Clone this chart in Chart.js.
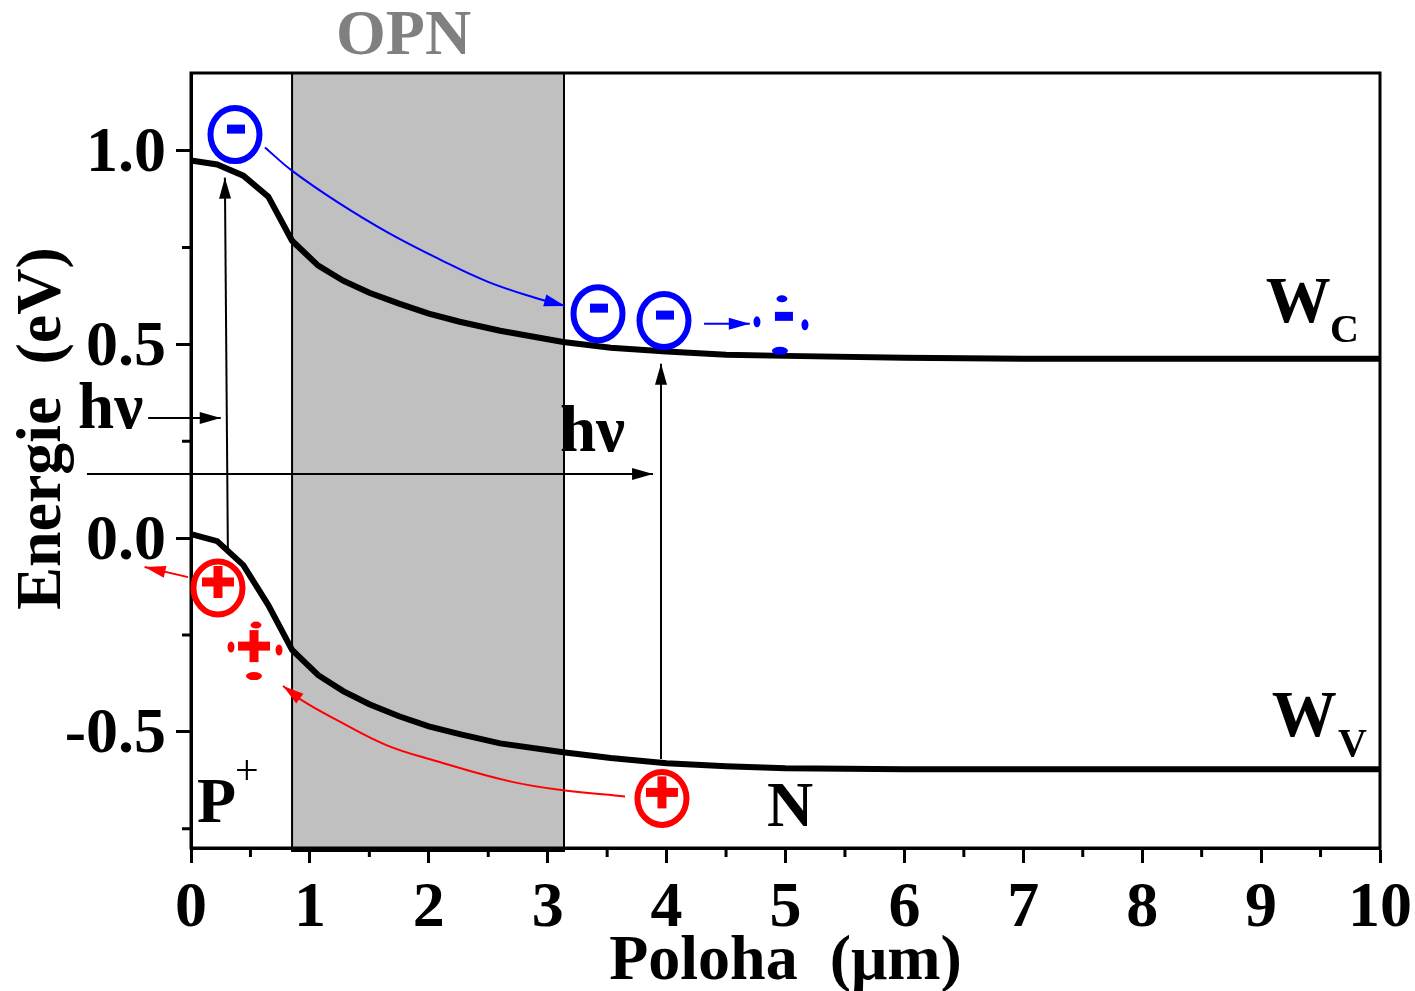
<!DOCTYPE html>
<html>
<head>
<meta charset="utf-8">
<title>Energie vs. poloha</title>
<script src="https://cdn.jsdelivr.net/npm/chart.js@4"></script>
<style>
  html, body { margin: 0; padding: 0; background: #fff; }
  canvas { display: block; }
</style>
</head>
<body>
<canvas id="chart" width="1415" height="991"></canvas>
<script>
// ─── Data ───
const xTicks = [0, 1, 2, 3, 4, 5, 6, 7, 8, 9, 10];
const xMinorTicks = [0.5, 1.5, 2.5, 3.5, 4.5, 5.5, 6.5, 7.5, 8.5, 9.5];
const yTicks = [-0.5, 0, 0.5, 1];
const yTickLabels = ['-0.5', '0.0', '0.5', '1.0'];
const yMinorTicks = [-0.75, -0.25, 0.25, 0.75];

const position = [0, 0.22, 0.44, 0.65, 0.85, 1.07, 1.28, 1.5, 1.75, 2, 2.26, 2.6, 3.13, 3.53, 4, 4.5, 5, 6, 7, 10];
const conductionBand = [0.974, 0.964, 0.935, 0.881, 0.767, 0.703, 0.664, 0.633, 0.605, 0.579, 0.558, 0.535, 0.506, 0.491, 0.481, 0.473, 0.47, 0.465, 0.4625, 0.4625];
const valenceBand = [0.01, -0.008, -0.07, -0.173, -0.289, -0.354, -0.395, -0.429, -0.46, -0.486, -0.506, -0.53, -0.553, -0.568, -0.581, -0.589, -0.594, -0.597, -0.597, -0.597];

const opnRegion = [0.85, 3.137];

// Arrows in axis units
const blueDrift = [[0.622, 1.008], [0.849, 0.948], [1.236, 0.866], [1.657, 0.788], [2.111, 0.716], [2.498, 0.661], [2.893, 0.62], [3.146, 0.599]];
const redDrift = [[3.65, -0.667], [3.129, -0.651], [2.683, -0.628], [2.069, -0.576], [1.648, -0.535], [1.228, -0.47], [0.934, -0.419], [0.774, -0.382]];
const electronExcitation = [[0.31, -0.026], [0.285, 0.93]];
const holeExcitation = [[3.953, -0.57], [3.953, 0.45]];
const photonLeft = [[-0.36, 0.31], [0.25, 0.31]];
const photonRight = [[-0.875, 0.165], [3.886, 0.165]];
const blueHop = [[4.315, 0.553], [4.7, 0.553]];
const redEscape = [[-0.025, -0.101], [-0.39, -0.075]];

// Charges in axis units
const electrons = [[0.37, 1.041], [3.423, 0.579], [3.978, 0.561]];
const holes = [[0.227, -0.129], [3.961, -0.672]];
const freeElectron = [4.987, 0.572];
const freeHole = [0.53, -0.279];

const SERIF = '"Liberation Serif", serif';
const BLUE = '#0000ff';
const RED = '#ff0000';

// text, x, y, font size, colour, weight
const labels = [
  ['OPN', 1.22, 1.248, 64, '#808080', 'bold'],
  ['hν', -0.95, 0.284, 65, '#000', 'bold'],
  ['hν', 3.103, 0.225, 65, '#000', 'bold'],
  ['W', 9.04, 0.558, 65, '#000', 'bold'],
  ['C', 9.58, 0.506, 40, '#000', 'bold'],
  ['W', 9.09, -0.512, 65, '#000', 'bold'],
  ['V', 9.647, -0.563, 40, '#000', 'bold'],
  ['P', 0.05, -0.734, 64, '#000', 'bold'],
  ['+', 0.37, -0.634, 42, '#000', 'normal'],
  ['N', 4.844, -0.742, 64, '#000', 'bold']
];

function toPoints(xs, ys) {
  return xs.map((x, i) => ({ x, y: ys[i] }));
}

function band(data) {
  return { data: toPoints(position, data), borderColor: '#000', borderWidth: 6, tension: 0, arrow: false };
}

function arrow(pairs, color, width, smooth) {
  return {
    data: pairs.map(p => ({ x: p[0], y: p[1] })),
    borderColor: color,
    borderWidth: width,
    tension: smooth ? 0.4 : 0,
    arrow: true
  };
}

function oval(ctx, x, y, rx, ry) {
  ctx.beginPath();
  ctx.ellipse(x, y, rx, ry, 0, 0, Math.PI * 2);
}

function drawSign(ctx, x, y, color, plus) {
  ctx.fillStyle = color;
  if (plus) {
    ctx.fillRect(x - 16, y - 4.5, 32, 9);
    ctx.fillRect(x - 4.5, y - 16, 9, 32);
  } else {
    ctx.fillRect(x - 9, y - 4.5, 18, 9);
  }
}

// Shaded OPN region, sits under the axes
const opnPlugin = {
  id: 'opnRegion',
  beforeDraw(chart) {
    const { ctx, chartArea, scales } = chart;
    const left = scales.x.getPixelForValue(opnRegion[0]);
    const right = scales.x.getPixelForValue(opnRegion[1]);
    ctx.save();
    ctx.fillStyle = '#c0c0c0';
    ctx.fillRect(left, chartArea.top, right - left, chartArea.bottom + 3 - chartArea.top);
    ctx.strokeStyle = '#000';
    ctx.lineWidth = 2;
    ctx.strokeRect(left, chartArea.top, right - left, chartArea.bottom + 3 - chartArea.top);
    ctx.restore();
  }
};

// Frame and minor ticks
const framePlugin = {
  id: 'frame',
  afterDatasetsDraw(chart) {
    const { ctx, chartArea, scales } = chart;
    ctx.save();
    ctx.strokeStyle = '#000';
    ctx.lineWidth = 3;
    ctx.strokeRect(chartArea.left, chartArea.top, chartArea.right - chartArea.left, chartArea.bottom - chartArea.top);
    ctx.beginPath();
    xMinorTicks.forEach(v => {
      const x = scales.x.getPixelForValue(v);
      ctx.moveTo(x, chartArea.bottom);
      ctx.lineTo(x, chartArea.bottom + 9);
    });
    yMinorTicks.forEach(v => {
      const y = scales.y.getPixelForValue(v);
      ctx.moveTo(chartArea.left, y);
      ctx.lineTo(chartArea.left - 9, y);
    });
    ctx.stroke();
    ctx.restore();
  }
};

// Arrow heads at the end of the arrow datasets
const arrowPlugin = {
  id: 'arrowHeads',
  afterDatasetsDraw(chart) {
    const { ctx } = chart;
    chart.data.datasets.forEach((ds, i) => {
      if (!ds.arrow) return;
      const pts = chart.getDatasetMeta(i).data;
      const end = pts[pts.length - 1];
      const prev = pts[pts.length - 2];
      const angle = Math.atan2(end.y - prev.y, end.x - prev.x);
      ctx.save();
      ctx.translate(end.x, end.y);
      ctx.rotate(angle);
      ctx.fillStyle = ds.borderColor;
      ctx.beginPath();
      ctx.moveTo(0, 0);
      ctx.lineTo(-21, -6);
      ctx.lineTo(-21, 6);
      ctx.closePath();
      ctx.fill();
      ctx.restore();
    });
  }
};

// Charges and free text
const annotationPlugin = {
  id: 'annotations',
  afterDatasetsDraw(chart) {
    const { ctx, scales } = chart;
    const px = v => scales.x.getPixelForValue(v);
    const py = v => scales.y.getPixelForValue(v);
    ctx.save();

    ctx.lineWidth = 6;
    electrons.forEach(p => {
      ctx.strokeStyle = BLUE;
      oval(ctx, px(p[0]), py(p[1]), 24.5, 26.5);
      ctx.stroke();
      drawSign(ctx, px(p[0]) + 1, py(p[1]) - 5.5, BLUE, false);
    });
    holes.forEach(p => {
      ctx.strokeStyle = RED;
      oval(ctx, px(p[0]), py(p[1]), 24.5, 26.5);
      ctx.stroke();
      drawSign(ctx, px(p[0]), py(p[1]) - 6, RED, true);
    });

    // Dissolved charges: the sign with the broken circle around it
    const fx = px(freeElectron[0]);
    const fy = py(freeElectron[1]);
    drawSign(ctx, fx, fy, BLUE, false);
    [[-27, 5.5, 3.5, 5.5], [21, 8.5, 3.5, 5.5], [-2, -17.5, 5.5, 3.5], [-4, 34.5, 8, 4]].forEach(o => {
      oval(ctx, fx + o[0], fy + o[1], o[2], o[3]);
      ctx.fill();
    });
    const hx = px(freeHole[0]);
    const hy = py(freeHole[1]);
    drawSign(ctx, hx, hy, RED, true);
    [[-23, 1, 3.5, 5.5], [25, 4, 3.5, 5.5], [2, -21, 5.5, 3.5], [0, 30, 8, 4]].forEach(o => {
      oval(ctx, hx + o[0], hy + o[1], o[2], o[3]);
      ctx.fill();
    });

    ctx.textAlign = 'left';
    ctx.textBaseline = 'alphabetic';
    labels.forEach(l => {
      ctx.font = l[5] + ' ' + l[3] + 'px ' + SERIF;
      ctx.fillStyle = l[4];
      ctx.fillText(l[0], px(l[1]), py(l[2]));
    });
    ctx.restore();
  }
};

new Chart(document.getElementById('chart').getContext('2d'), {
  type: 'line',
  data: {
    datasets: [
      band(conductionBand),
      band(valenceBand),
      arrow(blueDrift, BLUE, 2, true),
      arrow(redDrift, RED, 2, true),
      arrow(electronExcitation, '#000', 2, false),
      arrow(holeExcitation, '#000', 2, false),
      arrow(photonLeft, '#000', 2, false),
      arrow(photonRight, '#000', 2, false),
      arrow(blueHop, BLUE, 2, false),
      arrow(redEscape, RED, 2, false)
    ]
  },
  plugins: [opnPlugin, arrowPlugin, framePlugin, annotationPlugin],
  options: {
    responsive: false,
    animation: false,
    layout: { padding: { top: 73, right: 35, left: 0, bottom: 0 } },
    datasets: { line: { pointRadius: 0, clip: false, fill: false } },
    plugins: { legend: { display: false }, tooltip: { enabled: false } },
    scales: {
      x: {
        type: 'linear',
        min: 0,
        max: 10,
        afterBuildTicks(axis) { axis.ticks = xTicks.map(value => ({ value })); },
        // the "10" label may hang over the plot edge without shrinking it
        afterFit(axis) { axis.height = 143; axis.paddingRight = 0; },
        grid: { drawOnChartArea: false, drawTicks: true, tickLength: 15, tickWidth: 3, tickColor: '#000' },
        border: { color: '#000', width: 3 },
        ticks: {
          color: '#000',
          padding: 8,
          maxRotation: 0,
          autoSkip: false,
          font: { family: SERIF, size: 64, weight: 'bold' },
          callback: value => String(value)
        },
        title: {
          display: true,
          text: 'Poloha  (μm)',
          color: '#000',
          padding: { top: 0, bottom: -10 },
          font: { family: SERIF, size: 64, weight: 'bold' }
        }
      },
      y: {
        type: 'linear',
        min: -0.8,
        max: 1.2,
        afterBuildTicks(axis) { axis.ticks = yTicks.map(value => ({ value })); },
        afterFit(axis) { axis.width = 191; },
        grid: { drawOnChartArea: false, drawTicks: true, tickLength: 15, tickWidth: 3, tickColor: '#000' },
        border: { color: '#000', width: 3 },
        ticks: {
          color: '#000',
          padding: 10,
          labelOffset: 4,
          autoSkip: false,
          font: { family: SERIF, size: 64, weight: 'bold' },
          callback: (value) => yTickLabels[yTicks.indexOf(value)]
        },
        title: {
          display: true,
          // leading spaces push the centred title up, it sits above the axis middle
          text: '    Energie  (eV)',
          color: '#000',
          padding: { top: 5, bottom: 0 },
          font: { family: SERIF, size: 64, weight: 'bold' }
        }
      }
    }
  }
});
</script>
</body>
</html>
